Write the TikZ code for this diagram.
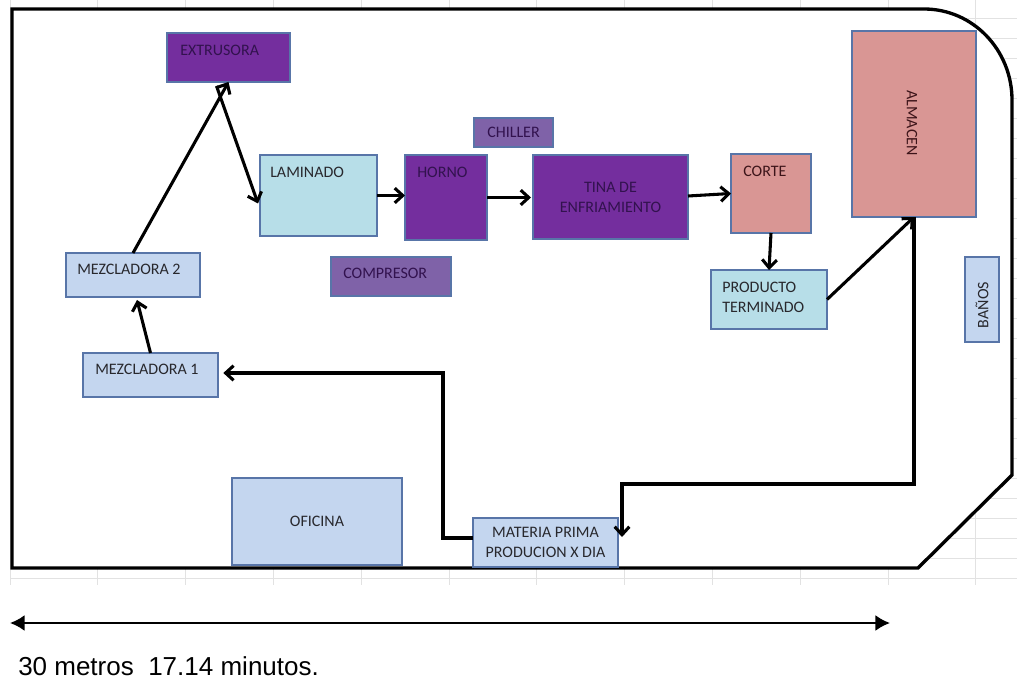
\documentclass[tikz,border=0pt]{standalone}
\usepackage{fontspec}
\setmainfont{Carlito}
\newfontfamily\arialf{Liberation Sans}
\usetikzlibrary{arrows.meta,calc}
\definecolor{purp}{RGB}{116,46,158}
\definecolor{purl}{RGB}{127,98,168}
\definecolor{bord}{RGB}{88,117,168}
\definecolor{cyanl}{RGB}{183,222,232}
\definecolor{bluel}{RGB}{196,214,239}
\definecolor{rosa}{RGB}{217,150,148}
\definecolor{gridc}{RGB}{226,226,226}
\definecolor{txtp}{RGB}{50,18,78}
\definecolor{txtg}{RGB}{40,40,45}
\definecolor{txtr}{RGB}{60,20,25}
\begin{document}
\begin{tikzpicture}[x=0.75pt,y=-0.75pt,
 box/.style={draw=bord, line width=2pt, inner sep=0pt, outer sep=0pt},
 sz/.style 2 args={minimum width={#1*0.75pt}, minimum height={#2*0.75pt}},
 lbl/.style={font=\fontsize{12}{15}\selectfont, inner sep=0pt, text=txtg},
 plbl/.style={lbl, text=txtp},
 flow/.style={line width=2.3pt, -{Straight Barb[length=6pt,width=11pt]}},
 gridl/.style={gridc, line width=0.6pt},
]
\useasboundingbox (0,0) rectangle (1017,680);
\fill[white] (0,0) rectangle (1017,680);
% spreadsheet grid
\foreach \i in {0,...,11} \draw[gridl] ({10+87.8*\i},0) -- ({10+87.8*\i},585);
\foreach \j in {0,...,28} \draw[gridl] (10,{578-20*\j}) -- (1017,{578-20*\j});
% plant outline
\draw[line width=2.5pt, fill=white, line join=miter]
  (12,9) -- (924,9) .. controls (973,9) and (1012,50) .. (1012,100)
  -- (1012,475) -- (918,568) -- (12,568) -- cycle;

% boxes
\node[box, fill=purp, sz={123}{49}] (ext) at (228.5,57.5) {};
\node[plbl, anchor=west] (extT) at (180,50) {EXTRUSORA};
\node[box, fill=cyanl, sz={117}{81}] (lam) at (318.5,195.5) {};
\node[lbl, anchor=west] (lamT) at (270,172) {LAMINADO};
\node[box, fill=purp, sz={82}{85}] (hor) at (446,197.5) {};
\node[plbl, anchor=west] (horT) at (417,172) {HORNO};
\node[box, fill=purl, sz={79}{29}, plbl] (chi) at (513.5,132.5) {CHILLER};
\node[box, fill=purp, sz={155}{84}, plbl, align=center] (tin) at (610.5,197) {TINA DE\\ENFRIAMIENTO};
\node[box, fill=purl, sz={120}{39}] (com) at (391,276.5) {};
\node[plbl, anchor=west] (comT) at (343,273) {COMPRESOR};
\node[box, fill=rosa, sz={80}{79}] (cor) at (771,193.5) {};
\node[lbl, anchor=west, text=txtr] (corT) at (743,171) {CORTE};
\node[box, fill=cyanl, sz={116}{59}] (pro) at (769,299.5) {};
\node[lbl, anchor=west, align=left] (proT) at (722,297) {PRODUCTO\\TERMINADO};
\node[box, fill=rosa, sz={124}{186}] (alm) at (914,124) {};
\node[lbl, rotate=-90, text=txtr] (almT) at (912,123) {ALMACEN};
\node[box, fill=bluel, sz={34}{85}] (ban) at (982,299.5) {};
\node[lbl, rotate=90] (banT) at (982,305) {BAÑOS};
\node[box, fill=bluel, sz={134}{44}] (mz2) at (133,275) {};
\node[lbl, anchor=west] (mz2T) at (77,269) {MEZCLADORA 2};
\node[box, fill=bluel, sz={135}{44}] (mz1) at (150.5,375) {};
\node[lbl, anchor=west] (mz1T) at (95,369) {MEZCLADORA 1};
\node[box, fill=bluel, sz={170}{87}, lbl] (ofi) at (317,521.5) {OFICINA};
\node[box, fill=bluel, sz={145}{49}, lbl, align=center] (mat) at (545.5,542.5) {MATERIA PRIMA\\PRODUCION X DIA};

% flow connectors
\draw[flow] (mz1.north) -- ($(mz2.south)+(4,3)$);
\draw[flow] (mz2.north) -- (ext.south);
\draw[flow] ($(ext.south)+(-12,4)$) -- ($(lam.west)+(-2,8)$);
\draw[flow] (lam.east) -- (lam.east -| hor.west);
\draw[flow] (hor.east) -- ($(hor.east -| tin.west)+(-2,0)$);
\draw[flow] ($(tin.east)+(0,-1)$) -- (cor.west);
\draw[flow] (cor.south) -- (pro.north);
\draw[flow] (pro.east) -- (alm.south);
\coordinate (c2) at (622,484);
\coordinate (tipm) at (622,537);
\draw[flow] (alm.south) |- (c2) -- (tipm);
\coordinate (m1) at (443,538);
\coordinate (m2) at (443,373);
\draw[flow, shorten >=4pt] (mat.west |- m1) -- (m1) -- (m2) -- (m2 -| mz1.east);

% scale
\coordinate (sl) at (10,623);
\coordinate (sr) at (890,623);
\draw[line width=1.5pt, {Latex[length=11pt,width=12pt]}-{Latex[length=11pt,width=12pt]}] (sl) -- (sr);
\node[anchor=base west, inner sep=0pt, font=\arialf\fontsize{19.5}{22}\selectfont] (esc) at (18,675) {30 metros\ \ 17.14 minutos.};
\end{tikzpicture}
\end{document}
